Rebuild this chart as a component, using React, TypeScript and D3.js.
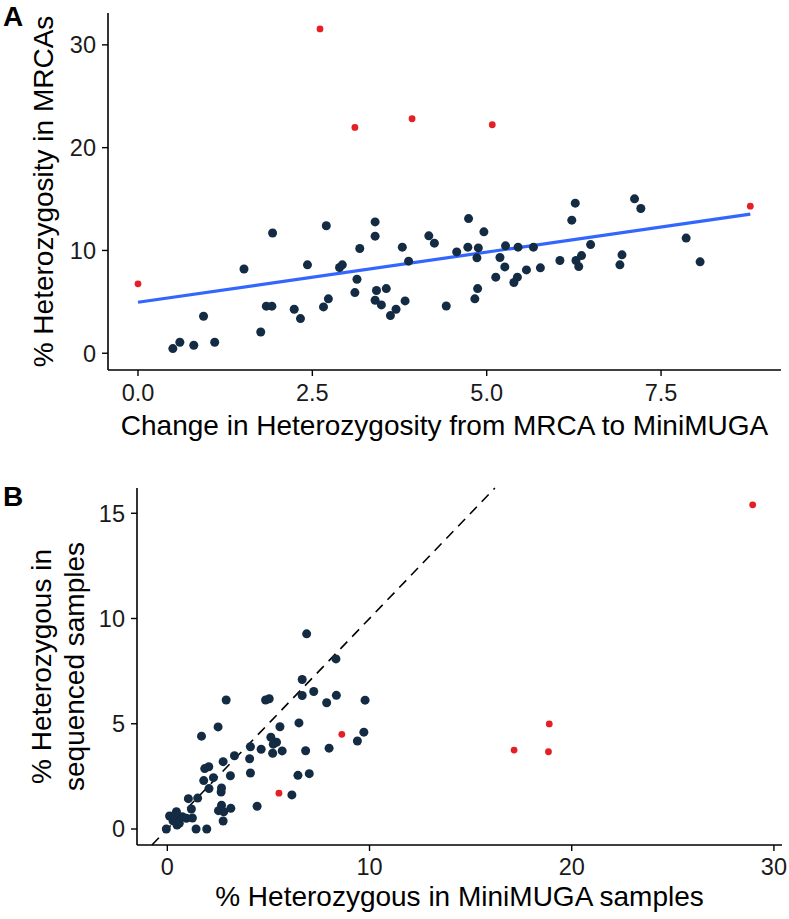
import React from "react";
import * as d3 from "d3";

// Panel A data: change in heterozygosity (x) vs % heterozygosity in MRCAs (y)
const aDarkX = [0.50,0.60,0.80,0.94,1.10,1.52,1.76,1.84,1.92,1.93,2.24,2.33,2.43,2.66,2.73,2.70,2.89,2.93,3.11,3.14,3.18,3.40,3.40,3.40,3.42,3.49,3.56,3.62,3.70,3.79,3.83,3.88,4.17,4.25,4.42,4.57,4.73,4.74,4.83,4.87,4.86,4.88,4.96,5.13,5.19,5.26,5.27,5.39,5.44,5.45,5.57,5.67,5.77,6.05,6.22,6.27,6.28,6.32,6.36,6.49,6.91,6.94,7.12,7.21,7.86,8.06];
const aDarkY = [0.45,1.07,0.78,3.6,1.07,8.2,2.07,4.58,4.58,11.7,4.28,3.37,8.6,4.51,5.29,12.4,8.34,8.6,5.9,7.2,10.19,12.78,11.39,5.16,6.1,4.7,6.29,3.66,4.28,10.32,5.09,8.96,11.42,10.71,4.6,9.86,10.32,13.1,5.29,6.29,9.28,10.25,11.81,7.4,9.31,8.4,10.45,6.88,7.4,10.32,8.11,10.32,8.31,9.02,12.95,14.6,9.02,8.43,9.5,10.57,8.6,9.57,15.02,14.08,11.2,8.89];
const aRedX = [0, 2.61, 3.11, 3.93, 5.08, 8.78];
const aRedY = [6.75, 31.55, 21.97, 22.81, 22.23, 14.31];
const aFitIntercept = 4.96;
const aFitSlope = 0.976;
const aFitRange = [0, 8.78];
const aXTicks = [0, 2.5, 5, 7.5];
const aXTickLabels = ["0.0", "2.5", "5.0", "7.5"];
const aYTicks = [0, 10, 20, 30];

// Panel B data: % heterozygous in MiniMUGA (x) vs sequenced (y)
const bDarkX = [8.34,6.67,7.24,6.67,7.88,8.36,9.78,2.91,4.86,5.04,2.51,1.69,5.57,6.51,9.72,9.40,5.12,5.40,5.24,4.11,4.64,5.21,5.68,6.84,8.0,3.32,4.07,2.76,2.05,1.85,4.11,3.12,6.46,7.02,2.28,1.80,2.06,2.68,2.66,6.16,1.04,1.50,4.44,2.68,3.14,2.53,2.79,1.19,0.45,0.11,0.74,1.24,2.76,0.28,0.59,-0.05,1.42,1.95,0.36,0.94,0.48,6.89];
const bDarkY = [8.08,7.10,6.53,6.34,6.0,6.35,6.12,6.13,6.13,6.19,4.85,4.41,4.86,5.04,4.6,4.18,4.36,4.12,4.03,3.91,3.79,3.6,3.71,3.72,3.84,3.48,3.34,3.2,2.96,2.87,2.66,2.53,2.55,2.63,2.44,2.30,1.92,1.95,1.76,1.62,1.44,1.47,1.08,1.13,0.98,0.87,0.82,0.95,0.82,0.62,0.58,0.52,0.38,0.39,0.27,0,0,0,0.66,0.51,0.19,9.27];
const bRedX = [8.63, 5.52, 28.95, 18.89, 17.15, 18.85];
const bRedY = [4.5, 1.70, 15.4, 4.99, 3.75, 3.67];
const bXTicks = [0, 10, 20, 30];
const bYTicks = [0, 5, 10, 15];

const DARK = "#132B43";
const RED = "#E41F26";
const BLUE = "#3366FF";
const FONT = "'Liberation Sans', Arial, Helvetica, sans-serif";
const TICK_FS = 23.5;
const TITLE_FS = 28;
const TICK_LEN = 6;
const DARK_R = 4.5;
const RED_R = 3.4;

export default function App() {
  const xA = d3.scaleLinear().domain([-0.43, 9.22]).range([108, 781]);
  const yA = d3.scaleLinear().domain([-1.63, 33.1]).range([370, 13]);
  const xB = d3.scaleLinear().domain([-1.5, 30.4]).range([137, 782]);
  const yB = d3.scaleLinear().domain([-0.76, 16.2]).range([845, 488]);

  const fitLine = d3.line<number>().x((d) => xA(d)).y((d) => yA(aFitIntercept + aFitSlope * d));
  const [bY0, bY1] = yB.domain();
  const diag = d3.line<number>().x((d) => xB(d)).y((d) => yB(d));

  return (
    <svg width={789} height={919} style={{ position: "absolute", left: 0, top: 0, background: "#fff" }} fontFamily={FONT}>
      <rect width={789} height={919} fill="#fff" />
      {/* Panel A */}
      <text x={3} y={26} fontSize={28} fontWeight="bold">A</text>
      <path d={fitLine(aFitRange) || ""} stroke={BLUE} strokeWidth={3.2} fill="none" />
      {aDarkX.map((x, i) => (
        <circle key={"ad" + i} cx={xA(x)} cy={yA(aDarkY[i])} r={DARK_R} fill={DARK} />
      ))}
      {aRedX.map((x, i) => (
        <circle key={"ar" + i} cx={xA(x)} cy={yA(aRedY[i])} r={RED_R} fill={RED} />
      ))}
      <line x1={xA.range()[0]} x2={xA.range()[0]} y1={yA.range()[1]} y2={yA.range()[0]} stroke="#000" strokeWidth={1.6} />
      <line x1={xA.range()[0]} x2={xA.range()[1]} y1={yA.range()[0]} y2={yA.range()[0]} stroke="#000" strokeWidth={1.6} />
      {aYTicks.map((t) => (
        <g key={"ayt" + t}>
          <line x1={xA.range()[0] - TICK_LEN} x2={xA.range()[0]} y1={yA(t)} y2={yA(t)} stroke="#000" strokeWidth={1.4} />
          <text x={xA.range()[0] - TICK_LEN - 6} y={yA(t)} dy="0.36em" textAnchor="end" fontSize={TICK_FS} fill="#1a1a1a">{t}</text>
        </g>
      ))}
      {aXTicks.map((t, i) => (
        <g key={"axt" + t}>
          <line x1={xA(t)} x2={xA(t)} y1={yA.range()[0]} y2={yA.range()[0] + TICK_LEN} stroke="#000" strokeWidth={1.4} />
          <text x={xA(t)} y={401} textAnchor="middle" fontSize={TICK_FS} fill="#1a1a1a">{aXTickLabels[i]}</text>
        </g>
      ))}
      <text x={(xA.range()[0] + xA.range()[1]) / 2} y={435} textAnchor="middle" fontSize={TITLE_FS}>Change in Heterozygosity from MRCA to MiniMUGA</text>
      <text transform={`translate(53,${(yA.range()[0] + yA.range()[1]) / 2}) rotate(-90)`} textAnchor="middle" fontSize={TITLE_FS}>% Heterozygosity in MRCAs</text>

      {/* Panel B */}
      <text x={3} y={506} fontSize={28} fontWeight="bold">B</text>
      <path d={diag([bY0, bY1]) || ""} stroke="#000" strokeWidth={1.6} strokeDasharray="10,7" fill="none" />
      {bDarkX.map((x, i) => (
        <circle key={"bd" + i} cx={xB(x)} cy={yB(bDarkY[i])} r={DARK_R} fill={DARK} />
      ))}
      {bRedX.map((x, i) => (
        <circle key={"br" + i} cx={xB(x)} cy={yB(bRedY[i])} r={RED_R} fill={RED} />
      ))}
      <line x1={xB.range()[0]} x2={xB.range()[0]} y1={yB.range()[1]} y2={yB.range()[0]} stroke="#000" strokeWidth={1.6} />
      <line x1={xB.range()[0]} x2={xB.range()[1]} y1={yB.range()[0]} y2={yB.range()[0]} stroke="#000" strokeWidth={1.6} />
      {bYTicks.map((t) => (
        <g key={"byt" + t}>
          <line x1={xB.range()[0] - TICK_LEN} x2={xB.range()[0]} y1={yB(t)} y2={yB(t)} stroke="#000" strokeWidth={1.4} />
          <text x={xB.range()[0] - TICK_LEN - 6} y={yB(t)} dy="0.36em" textAnchor="end" fontSize={TICK_FS} fill="#1a1a1a">{t}</text>
        </g>
      ))}
      {bXTicks.map((t) => (
        <g key={"bxt" + t}>
          <line x1={xB(t)} x2={xB(t)} y1={yB.range()[0]} y2={yB.range()[0] + TICK_LEN} stroke="#000" strokeWidth={1.4} />
          <text x={xB(t)} y={875} textAnchor="middle" fontSize={TICK_FS} fill="#1a1a1a">{t}</text>
        </g>
      ))}
      <text x={(xB.range()[0] + xB.range()[1]) / 2} y={906} textAnchor="middle" fontSize={TITLE_FS}>% Heterozygous in MiniMUGA samples</text>
      <text transform={`translate(51,${(yB.range()[0] + yB.range()[1]) / 2}) rotate(-90)`} textAnchor="middle" fontSize={TITLE_FS}>% Heterozygous in</text>
      <text transform={`translate(84,${(yB.range()[0] + yB.range()[1]) / 2}) rotate(-90)`} textAnchor="middle" fontSize={TITLE_FS}>sequenced samples</text>
    </svg>
  );
}
